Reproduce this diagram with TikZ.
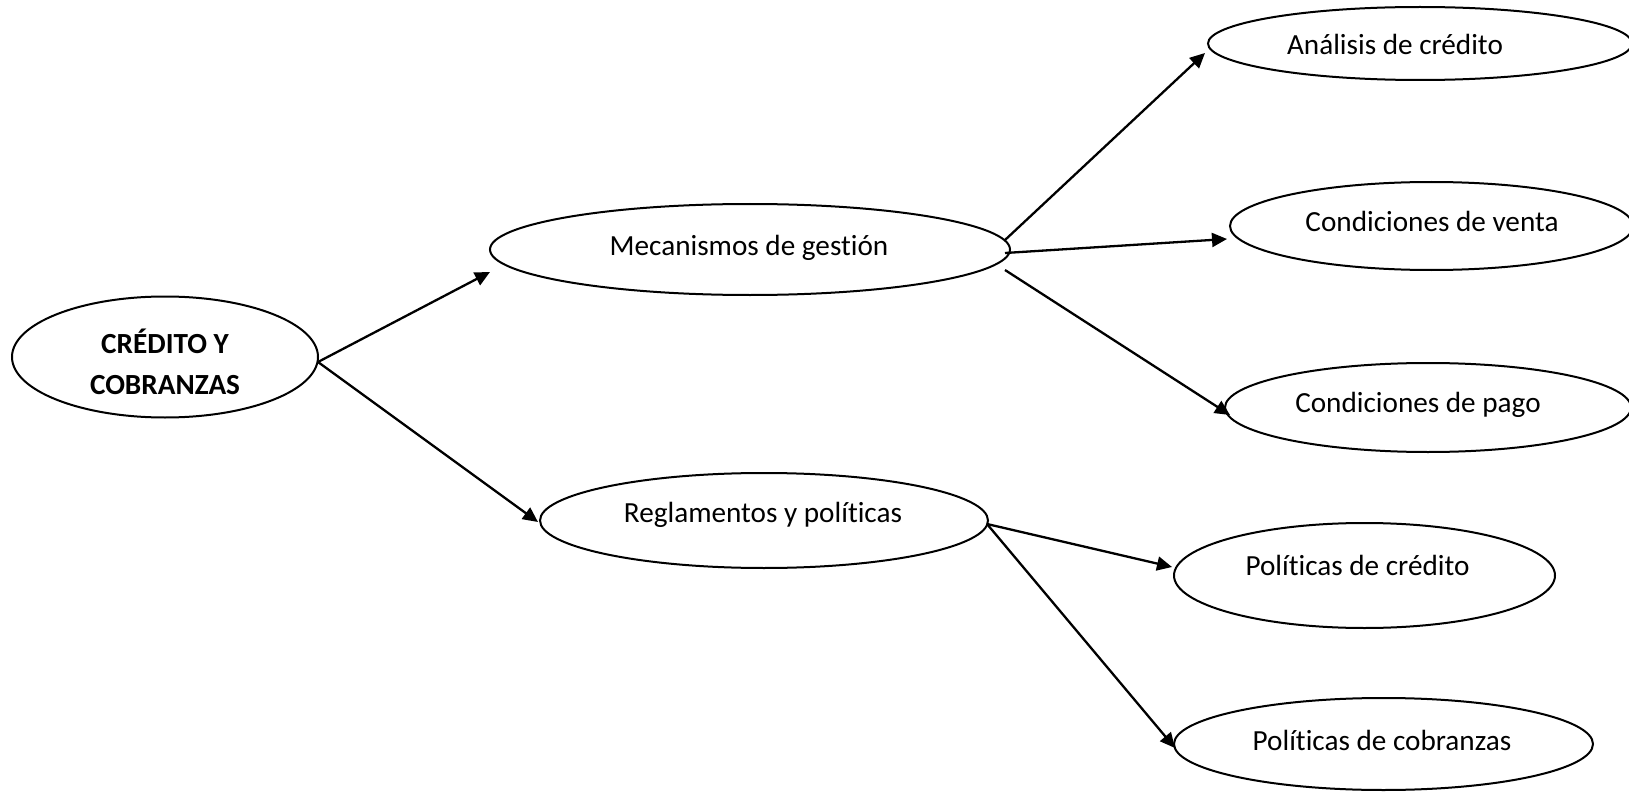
\documentclass[tikz,border=0pt]{standalone}
\usepackage{fontspec}
\setmainfont{Carlito}[RawFeature=-liga]
\usetikzlibrary{shapes.geometric,arrows.meta,calc}

\begin{document}
\begin{tikzpicture}[x=0.5pt,y=-0.5pt,
  bubble/.style={ellipse,draw=black,line width=1pt,inner sep=0pt,fill=white},
  label text/.style={inner sep=0pt,anchor=base,font=\fontsize{14.6}{20}\selectfont},
  arr/.style={line width=1.15pt,-{Triangle[length=7.5pt,width=7pt]}}]
\useasboundingbox[fill=white] (0,0) rectangle (1629,792);

% outlines (minimum width/height in pt equal the radii in pixels)
\node[bubble,minimum width=153pt,minimum height=60.5pt] (cr) at (165,357) {};
\node[bubble,minimum width=260pt,minimum height=45.5pt] (mg) at (750,249.5) {};
\node[bubble,minimum width=224pt,minimum height=47.5pt] (rp) at (764,520.5) {};
\node[bubble,minimum width=212pt,minimum height=36.5pt] (an) at (1420,43.5) {};
\node[bubble,minimum width=201.5pt,minimum height=44pt] (cv) at (1431.5,226) {};
\node[bubble,minimum width=203pt,minimum height=44.5pt] (cp) at (1428,407.5) {};
\node[bubble,minimum width=190.5pt,minimum height=52.5pt] (pc) at (1364.5,575.5) {};
\node[bubble,minimum width=209.5pt,minimum height=46pt] (pco) at (1383.5,744) {};

% texts
\node[inner sep=0pt,align=center,font=\fontsize{14.6}{20.5}\selectfont\bfseries] (crt) at (165,362) {CRÉDITO Y\\COBRANZAS};
\node[label text] (mgt) at (749,256) {Mecanismos de gestión};
\node[label text] (rpt) at (763,522) {Reglamentos y políticas};
\node[label text] (ant) at (1395,55) {Análisis de crédito};
\node[label text] (cvt) at (1432,232) {Condiciones de venta};
\node[label text] (cpt) at (1418,412) {Condiciones de pago};
\node[label text] (pct) at (1357.5,575) {Políticas de crédito};
\node[label text] (pcot) at (1382,750) {Políticas de cobranzas};

% connectors
\draw[arr] ($(cr.center)+(153,5)$) -- ($(mg.center)+(-260,22.5)$);
\draw[arr] ($(cr.center)+(153,5)$) -- ($(rp.center)+(-226,1.5)$);
\draw[arr] ($(mg.center)+(255,-9.5)$) -- ($(an.center)+(-215,9.5)$);
\draw[arr] ($(mg.center)+(255,3.5)$) -- ($(cv.center)+(-204.5,13)$);
\draw[arr] ($(mg.center)+(255,20.5)$) -- ($(cp.center)+(-198,7.5)$);
\draw[arr] ($(rp.center)+(223,3.5)$) -- ($(pc.center)+(-192.5,-8.5)$);
\draw[arr] ($(rp.center)+(223,3.5)$) -- ($(pco.center)+(-208.5,4)$);
\end{tikzpicture}
\end{document}
